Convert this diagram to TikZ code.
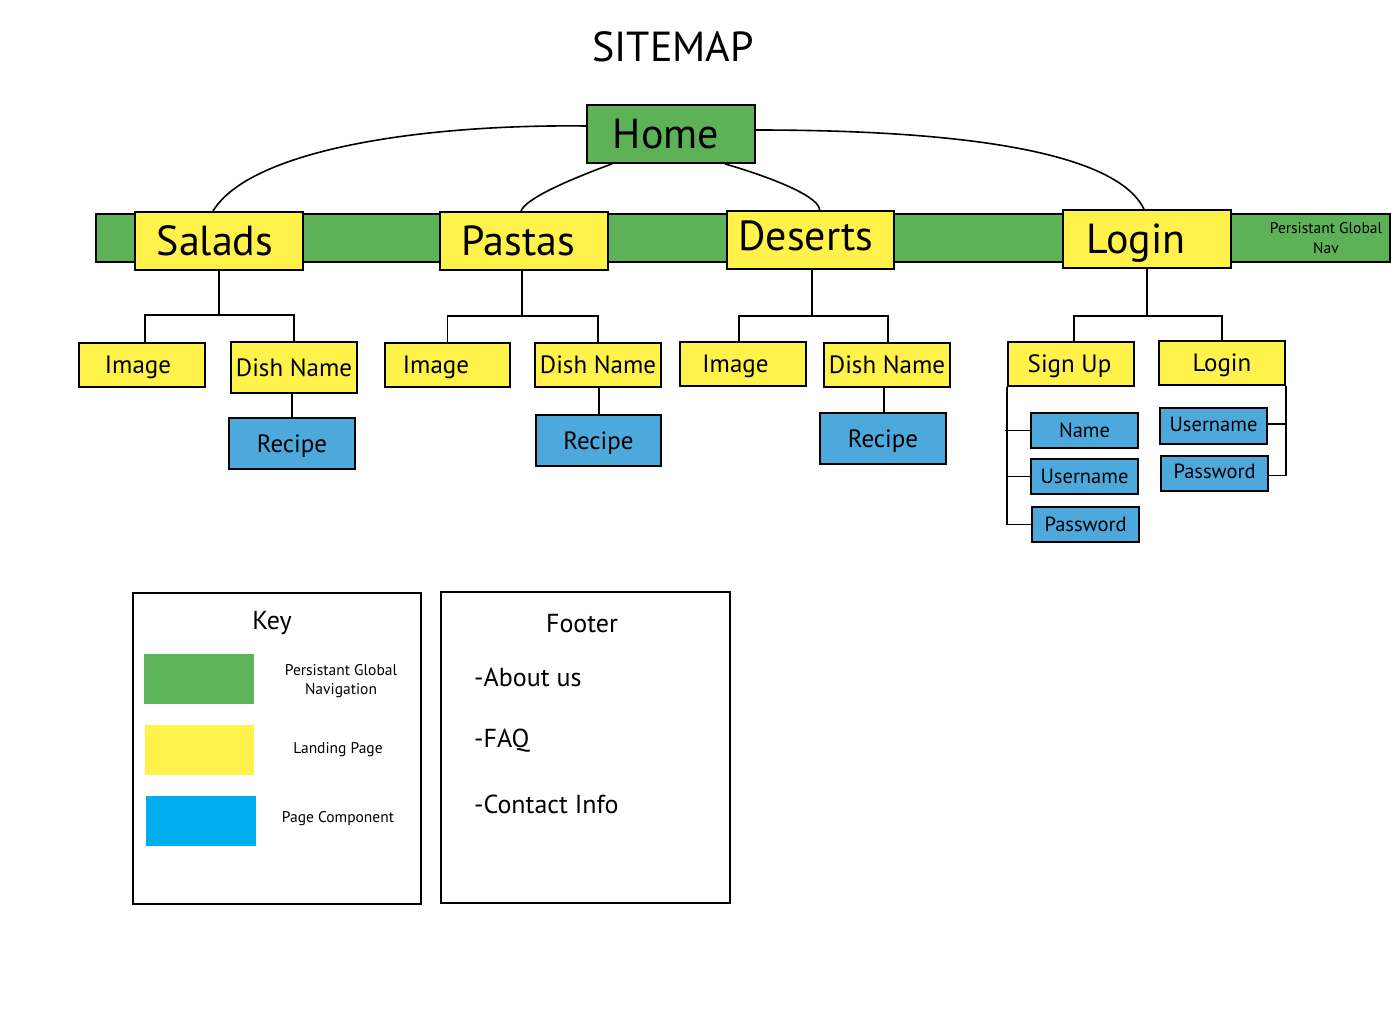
\documentclass[tikz,border=0pt]{standalone}
\usepackage{fontspec}
\setmainfont{PT Sans}
\definecolor{navgreen}{HTML}{5DB157}
\definecolor{pageyellow}{HTML}{FFF24A}
\definecolor{compblue}{HTML}{4DA8DC}
\definecolor{keyblue}{HTML}{00ADEE}
\definecolor{keygreen}{HTML}{5FB45A}
\newcommand\nudge[2]{\hspace*{#1}#2}
\tikzset{
  basebox/.style={draw=black, line width=1.8pt, inner sep=0pt, anchor=center},
  navbox/.style={basebox, fill=navgreen},
  landbox/.style={basebox, fill=pageyellow},
  compbox/.style={basebox, fill=compblue},
  bigtxt/.style={font=\fontsize{42}{46}\selectfont, text height=29.4pt, text depth=0pt},
  midtxt/.style={font=\fontsize{25}{29}\selectfont, text height=17.5pt, text depth=0pt},
  smltxt/.style={font=\fontsize{20.5}{24}\selectfont, text height=14.3pt, text depth=0pt},
  tinytxt/.style={font=\fontsize{15.5}{19.5}\selectfont, align=center},
  link/.style={draw=black, line width=1.6pt},
  frame/.style={draw=black, line width=1.8pt, inner sep=0pt, anchor=center},
}
\begin{document}
\begin{tikzpicture}[x=1pt, y=-1pt]
\useasboundingbox (0,0) rectangle (1396,1012);

\node[font=\fontsize{42}{46}\selectfont] (title) at (673,47) {SITEMAP};

% persistent nav bar
\node[navbox, minimum width=1294pt, minimum height=48pt] (navbar) at (743,238) {};
\node[tinytxt] (navlabel) at (1326,238) {Persistant Global\\Nav};

% home
\node[navbox, bigtxt, minimum width=168pt, minimum height=58pt] (home) at (671,134) {\nudge{-10pt}{Home}};

% top level
\node[landbox, bigtxt, minimum width=168pt, minimum height=58pt] (salads) at (219,241) {\nudge{-8pt}{Salads}};
\node[landbox, bigtxt, minimum width=168pt, minimum height=58pt] (pastas) at (524,241) {\nudge{-11pt}{Pastas}};
\node[landbox, bigtxt, minimum width=167pt, minimum height=58pt, text depth=8pt] (deserts) at (810.5,240) {\nudge{-9pt}{Deserts}};
\node[landbox, bigtxt, minimum width=168pt, minimum height=58pt] (login) at (1147,239) {\nudge{-22pt}{Login}};

% curves from home
\draw[link] ([yshift=8pt]home.west) .. controls (420,124) and (250,150) .. ([xshift=-6pt]salads.north);
\draw[link] ([xshift=-59pt]home.south) .. controls (560,183) and (525,200) .. ([xshift=-3pt]pastas.north);
\draw[link] ([xshift=54pt]home.south) .. controls (780,180) and (820,198) .. ([xshift=9pt]deserts.north);
\draw[link] ([yshift=4pt]home.east) .. controls (1000,130) and (1120,160) .. ([xshift=-3pt]login.north);

% salads subtree
\node[landbox, midtxt, minimum width=126pt, minimum height=44pt] (img1) at (142,365) {\nudge{-8pt}{Image}};
\node[landbox, midtxt, minimum width=126pt, minimum height=51pt] (dish1) at (294,367.5) {Dish Name};
\node[compbox, midtxt, minimum width=126pt, minimum height=51pt] (rec1) at (292,443.5) {Recipe};
\draw[link] (salads.south) -- ++(0,44) coordinate (s1);
\draw[link] ([xshift=3pt]img1.north) |- (s1) -| (dish1.north);
\draw[link] ([xshift=-2pt]dish1.south) -- (rec1.north);

% pastas subtree
\node[landbox, midtxt, minimum width=125pt, minimum height=44pt] (img2) at (447.5,365) {\nudge{-23pt}{Image}};
\node[landbox, midtxt, minimum width=126pt, minimum height=44pt] (dish2) at (598,365) {Dish Name};
\node[compbox, midtxt, minimum width=125pt, minimum height=51pt] (rec2) at (598.5,440.5) {Recipe};
\draw[link] ([xshift=-2pt]pastas.south) -- ++(0,45) coordinate (s2);
\draw[link] (img2.north) |- (s2) -| (dish2.north);
\draw[link] ([xshift=1pt]dish2.south) -- ([xshift=0.5pt]rec2.north);

% deserts subtree
\node[landbox, midtxt, minimum width=126pt, minimum height=44pt] (img3) at (743,364) {\nudge{-15pt}{Image}};
\node[landbox, midtxt, minimum width=126pt, minimum height=44pt] (dish3) at (887,365) {Dish Name};
\node[compbox, midtxt, minimum width=126pt, minimum height=51pt] (rec3) at (883,438.5) {Recipe};
\draw[link] ([xshift=1.5pt]deserts.south) -- ++(0,46) coordinate (s3);
\draw[link] ([xshift=-4pt]img3.north) |- (s3) -| ([xshift=1pt]dish3.north);
\draw[link] ([xshift=-3pt]dish3.south) -- ([xshift=1pt]rec3.north);

% login subtree
\node[landbox, midtxt, minimum width=126pt, minimum height=44pt] (signup) at (1071,364) {\nudge{-3pt}{Sign Up}};
\node[landbox, midtxt, minimum width=126pt, minimum height=44pt] (login2) at (1222,363) {Login};
\draw[link] (login.south) -- ++(0,47) coordinate (s4);
\draw[link] ([xshift=3pt]signup.north) |- (s4) -| (login2.north);

\node[compbox, smltxt, minimum width=107pt, minimum height=35pt] (name1) at (1084.5,430.5) {Name};
\node[compbox, smltxt, minimum width=107pt, minimum height=35pt] (un1) at (1084.5,476.5) {Username};
\node[compbox, smltxt, minimum width=107pt, minimum height=35pt] (pw1) at (1085.5,524.5) {Password};
\draw[link] (signup.south west) |- (pw1.west);
\draw[link] ([xshift=-2pt]signup.south west |- name1.west) -- (name1.west);
\draw[link] (signup.south west |- un1.west) -- (un1.west);

\node[compbox, smltxt, minimum width=107pt, minimum height=36pt, text depth=4pt] (un2) at (1213.5,426) {Username};
\node[compbox, smltxt, minimum width=107pt, minimum height=35pt, text depth=4pt] (pw2) at (1214.5,473.5) {Password};
\draw[link] (login2.south east) |- ([yshift=-2pt]pw2.east);
\draw[link] ([yshift=2pt]un2.east) -- ([yshift=2pt]un2.east -| login2.south east);

% key
\node[frame, minimum width=288pt, minimum height=311pt] (keybox) at (277,748.5) {};
\node[font=\fontsize{26}{30}\selectfont] (keytitle) at (272,623) {Key};
\node[fill=keygreen, inner sep=0pt, minimum width=110pt, minimum height=50pt] (kgreen) at (199,679) {};
\node[fill=pageyellow, inner sep=0pt, minimum width=109pt, minimum height=50pt] (kyellow) at (199.5,750) {};
\node[fill=keyblue, inner sep=0pt, minimum width=110pt, minimum height=50pt] (kblue) at (201,821) {};
\node[tinytxt] (kl1) at (341,681) {Persistant Global\\Navigation};
\node[tinytxt] (kl2) at (338,750) {Landing Page};
\node[tinytxt] (kl3) at (338,819) {Page Component};

% footer
\node[frame, minimum width=289pt, minimum height=311pt] (footbox) at (585.5,747.5) {};
\node[font=\fontsize{26}{30}\selectfont] (foottitle) at (582,624) {Footer};
\node[font=\fontsize{26}{30}\selectfont, anchor=west, inner sep=0pt] (f1) at (474,677) {-About us};
\node[font=\fontsize{26}{30}\selectfont, anchor=west, inner sep=0pt] (f2) at (474,741) {-FAQ};
\node[font=\fontsize{26}{30}\selectfont, anchor=west, inner sep=0pt] (f3) at (474,804) {-Contact Info};
\end{tikzpicture}
\end{document}
